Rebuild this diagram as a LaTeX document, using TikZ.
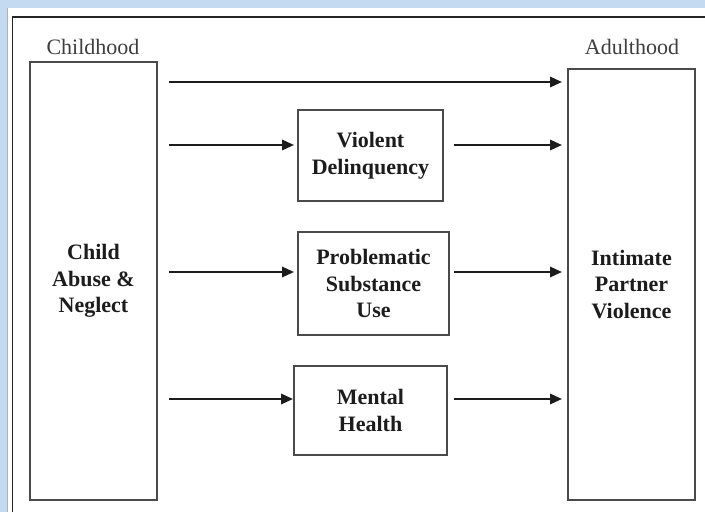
\documentclass[tikz,border=0pt]{standalone}
\usepackage{fontspec}
\setmainfont{Liberation Serif}
\usetikzlibrary{arrows.meta}
\definecolor{bandblue}{HTML}{C3DAF0}
\definecolor{linegray}{HTML}{4A4A4A}
\definecolor{textgray}{HTML}{1C1C1C}
\tikzset{
  box/.style={draw=linegray, line width=1.7pt, fill=white, inner sep=0pt, align=center,
    font=\fontsize{22}{26.5}\selectfont\bfseries, text=textgray},
  period/.style={font=\fontsize{22}{26.5}\selectfont, text=textgray!85, inner sep=0pt},
  arr/.style={draw=textgray, line width=2.7pt, -{Triangle[length=12pt,width=10pt]}},
}
\begin{document}
\begin{tikzpicture}[x=1pt,y=-1pt]
\useasboundingbox (0,0) rectangle (705,512);
% frame
\fill[bandblue] (0,0) rectangle (705,512);
\fill[white] (8,8) rectangle (705,512);
\draw[line width=0.6pt, gray!60] (7.5,8) -- (7.5,512);
\draw[line width=1.5pt, black!85] (12.5,512) -- (12.5,17) -- (705,17);
% time labels
\node[period] (ch) at (93,47) {Childhood};
\node[period] (ad) at (632,47) {Adulthood};
% boxes
\node[box, minimum width=127pt, minimum height=438pt] (L) at (93.5,281) {Child\\Abuse \&\\Neglect};
\node[box, minimum width=127pt, minimum height=431pt] (R) at (631.5,284.5) {Intimate\\Partner\\Violence};
\node[box, minimum width=145pt, minimum height=91pt] (V) at (370.5,155.5) {Violent\\Delinquency};
\node[box, minimum width=151pt, minimum height=103pt] (P) at (373.5,283.5) {Problematic\\Substance\\Use};
\node[box, minimum width=153pt, minimum height=89pt] (M) at (370.5,410.5) {Mental\\Health};
% arrow rows
\coordinate (r0) at (0,82);
\coordinate (r1) at (0,145);
\coordinate (r2) at (0,272);
\coordinate (r3) at (0,399);
% arrows
\draw[arr, shorten <=11pt, shorten >=5pt] (L.east |- r0) -- (R.west |- r0);
\draw[arr, shorten <=11pt, shorten >=3pt] (L.east |- r1) -- (V.west |- r1);
\draw[arr, shorten <=10pt, shorten >=5pt] (V.east |- r1) -- (R.west |- r1);
\draw[arr, shorten <=11pt, shorten >=3pt] (L.east |- r2) -- (P.west |- r2);
\draw[arr, shorten <=4pt, shorten >=5pt] (P.east |- r2) -- (R.west |- r2);
\draw[arr, shorten <=11pt, shorten >=0pt] (L.east |- r3) -- (M.west |- r3);
\draw[arr, shorten <=6pt, shorten >=5pt] (M.east |- r3) -- (R.west |- r3);
\end{tikzpicture}
\end{document}
